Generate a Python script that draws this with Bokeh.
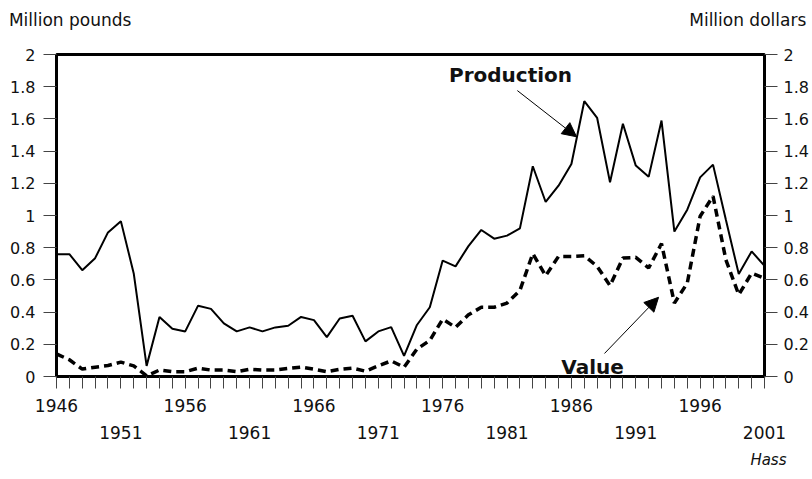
from bokeh.plotting import figure
from bokeh.models import (ColumnDataSource, LinearAxis, FixedTicker, CustomJSTickFormatter,
                          Range1d, Label, Arrow, NormalHead, Title)
from bokeh.embed import file_html
from bokeh.resources import INLINE

years = list(range(1946, 2002))
production = [0.76, 0.76, 0.66, 0.735, 0.895, 0.965, 0.64, 0.066, 0.37, 0.296,
              0.28, 0.44, 0.42, 0.33, 0.28, 0.305, 0.28, 0.305, 0.315, 0.37,
              0.35, 0.245, 0.36, 0.377, 0.218, 0.28, 0.307, 0.128, 0.32, 0.43,
              0.72, 0.684, 0.81, 0.91, 0.856, 0.875, 0.92, 1.306, 1.084, 1.185,
              1.32, 1.71, 1.606, 1.206, 1.57, 1.31, 1.24, 1.59, 0.90, 1.036,
              1.237, 1.316, 0.974, 0.636, 0.777, 0.688]
value_ = [0.14, 0.104, 0.046, 0.058, 0.068, 0.089, 0.066, 0.004, 0.04, 0.03,
          0.03, 0.052, 0.04, 0.04, 0.03, 0.045, 0.04, 0.04, 0.05, 0.058,
          0.045, 0.03, 0.045, 0.052, 0.033, 0.066, 0.097, 0.058, 0.17, 0.224,
          0.356, 0.305, 0.383, 0.43, 0.43, 0.456, 0.535, 0.763, 0.626, 0.746,
          0.746, 0.75, 0.684, 0.564, 0.736, 0.74, 0.674, 0.825, 0.456, 0.58,
          0.995, 1.12, 0.725, 0.508, 0.642, 0.61]
y_ticks = [0, 0.2, 0.4, 0.6, 0.8, 1.0, 1.2, 1.4, 1.6, 1.8, 2.0]
row1_years = [1946, 1956, 1966, 1976, 1986, 1996]
row2_years = [1951, 1961, 1971, 1981, 1991, 2001]
left_title = "Million pounds"
right_title = "Million dollars"
source_note = "Hass"

FONT = "DejaVu Sans"
TXT = "#111111"

src = ColumnDataSource(dict(year=years, production=production, value=value_))

p = figure(frame_width=708, frame_height=322, output_backend="svg", toolbar_location=None,
           x_range=Range1d(1946, 2001), y_range=Range1d(0, 2),
           x_axis_location=None, y_axis_location=None,
           min_border_left=56, min_border_right=46, min_border_top=54, min_border_bottom=0)
p.xgrid.visible = False
p.ygrid.visible = False
p.outline_line_color = "black"
p.outline_line_width = 3

yfmt = CustomJSTickFormatter(code="return tick.toFixed(1).replace(/\\.0$/, '');")

def style_y(ax, standoff):
    ax.ticker = FixedTicker(ticks=y_ticks)
    ax.formatter = yfmt
    ax.axis_line_color = None
    ax.major_tick_in = 0
    ax.major_tick_out = 13
    ax.major_tick_line_color = "#444444"
    ax.major_tick_line_width = 1
    ax.minor_tick_line_color = None
    ax.major_label_standoff = standoff
    ax.major_label_text_font = FONT
    ax.major_label_text_font_size = "16px"
    ax.major_label_text_color = TXT

yl = LinearAxis()
style_y(yl, 8)
p.add_layout(yl, "left")
yr = LinearAxis()
style_y(yr, 6)
p.add_layout(yr, "right")

# unit titles above the frame: one label over each end of the chart
unit_axis = LinearAxis(ticker=FixedTicker(ticks=[1947.06, 1999.70]),
                       formatter=CustomJSTickFormatter(
                           args=dict(lt=left_title, rt=right_title),
                           code="return tick < 1973 ? lt : rt;"))
unit_axis.axis_line_color = None
unit_axis.major_tick_in = 0
unit_axis.major_tick_out = 0
unit_axis.major_tick_line_color = None
unit_axis.minor_tick_line_color = None
unit_axis.major_label_standoff = 25
unit_axis.major_label_text_font = FONT
unit_axis.major_label_text_font_size = "17px"
unit_axis.major_label_text_color = TXT
p.add_layout(unit_axis, "above")

x1 = LinearAxis(ticker=FixedTicker(ticks=years),
                formatter=CustomJSTickFormatter(
                    code="return ((tick - 1946) % 10 == 0) ? String(tick) : '';"))
x1.axis_line_color = None
x1.major_tick_in = 0
x1.major_tick_out = 12
x1.major_tick_line_color = "#444444"
x1.minor_tick_line_color = None
x1.major_label_standoff = 10
x1.major_label_text_font = FONT
x1.major_label_text_font_size = "17px"
x1.major_label_text_color = TXT
p.add_layout(x1, "below")

x2 = LinearAxis(ticker=FixedTicker(ticks=row2_years),
                formatter=CustomJSTickFormatter(code="return String(tick);"))
x2.axis_line_color = None
x2.major_tick_in = 0
x2.major_tick_out = 0
x2.major_tick_line_color = None
x2.minor_tick_line_color = None
x2.major_label_standoff = 11
x2.major_label_text_font = FONT
x2.major_label_text_font_size = "17px"
x2.major_label_text_color = TXT
p.add_layout(x2, "below")

p.add_layout(Title(text=source_note, align="right", offset=-22, standoff=14,
                   text_font=FONT, text_font_size="15px", text_font_style="italic",
                   text_color=TXT), "below")

p.line("year", "production", source=src, line_color="black", line_width=2)
p.line("year", "value", source=src, line_color="black", line_width=3.5, line_dash="8 5")

p.add_layout(Label(x=1981.27, y=1.875, text="Production", text_font=FONT, text_font_style="bold",
                   text_font_size="20px", text_align="center", text_baseline="middle",
                   text_color=TXT))
p.add_layout(Label(x=1987.64, y=0.056, text="Value", text_font=FONT, text_font_style="bold",
                   text_font_size="20px", text_align="center", text_baseline="middle",
                   text_color=TXT))
p.add_layout(Arrow(end=NormalHead(size=14, fill_color="black", line_color="black"),
                   x_start=1981.8, y_start=1.776, x_end=1986.4, y_end=1.489,
                   line_color="black", line_width=1))
p.add_layout(Arrow(end=NormalHead(size=14, fill_color="black", line_color="black"),
                   x_start=1988.57, y_start=0.143, x_end=1992.77, y_end=0.492,
                   line_color="black", line_width=1))

open("out.html", "w").write(file_html(p, INLINE))
